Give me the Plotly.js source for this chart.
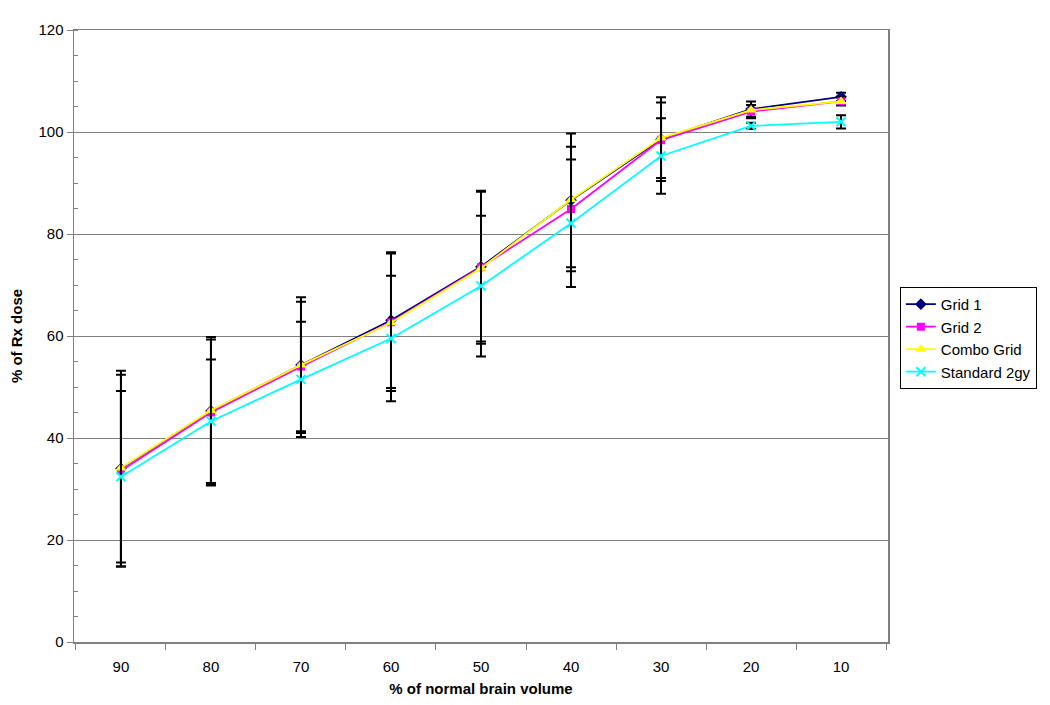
<!DOCTYPE html>
<html>
<head>
<meta charset="utf-8">
<script src="https://cdn.plot.ly/plotly-3.0.1.min.js"></script>
<style>html,body{margin:0;padding:0;background:#fff;}#chart{width:1050px;height:705px;}</style>
</head>
<body>
<div id="chart"></div>
<script>
const categories = ["90", "80", "70", "60", "50", "40", "30", "20", "10"];
const grid1 = [34.0, 45.3, 54.3, 63.1, 73.6, 86.6, 98.6, 104.5, 106.9];
const grid1Err = [19.2, 14.5, 13.3, 13.3, 14.7, 13.1, 8.2, 1.5, 0.8];
const grid2 = [33.6, 45.0, 54.0, 62.7, 73.5, 84.9, 98.4, 104.0, 106.0];
const grid2Err = [18.8, 14.3, 12.7, 13.5, 15.0, 12.2, 7.4, 1.3, 0.8];
const comboGrid = [34.1, 45.4, 54.3, 62.6, 73.3, 86.7, 98.8, 104.3, 106.0];
const standard2gy = [32.4, 43.3, 51.5, 59.5, 69.8, 82.1, 95.3, 101.2, 102.0];
const standard2gyErr = [16.8, 12.1, 11.3, 12.3, 13.8, 12.5, 7.4, 0.6, 1.3];

function err(arr) {
  return {type: "data", array: arr, visible: true, color: "#000000", thickness: 2, width: 5};
}

const traces = [
  {x: categories, y: grid1, name: "Grid 1", type: "scatter", mode: "lines+markers",
   line: {color: "#000080", width: 1.8}, marker: {symbol: "diamond", size: 9, color: "#000080"},
   error_y: err(grid1Err)},
  {x: categories, y: grid2, name: "Grid 2", type: "scatter", mode: "lines+markers",
   line: {color: "#FF00FF", width: 1.8}, marker: {symbol: "square", size: 8, color: "#FF00FF"},
   error_y: err(grid2Err)},
  {x: categories, y: comboGrid, name: "Combo Grid", type: "scatter", mode: "lines+markers",
   line: {color: "#FFFF00", width: 1.8}, marker: {symbol: "triangle-up", size: 10, color: "#FFFF00"}},
  {x: categories, y: standard2gy, name: "Standard 2gy", type: "scatter", mode: "lines+markers",
   line: {color: "#00FFFF", width: 1.8}, marker: {symbol: "x-thin", size: 9, line: {color: "#00FFFF", width: 2}, color: "#00FFFF"},
   error_y: err(standard2gyErr)}
];

const layout = {
  width: 1050, height: 705,
  margin: {l: 74, r: 162, t: 30, b: 63},
  paper_bgcolor: "#ffffff", plot_bgcolor: "#ffffff",
  font: {family: "Liberation Sans, Arial, sans-serif", size: 15, color: "#000"},
  showlegend: true,
  legend: {xref: "container", yref: "container", x: 0.857, y: 0.593, xanchor: "left", yanchor: "top",
    bordercolor: "#000000", borderwidth: 1, font: {size: 15}, tracegroupgap: 0, itemwidth: 30},
  xaxis: {
    type: "category", title: {text: "<b>% of normal brain volume</b>", font: {size: 15}, standoff: 10},
    showline: true, linecolor: "#808080", linewidth: 1.5, mirror: true,
    ticks: "outside", tickson: "boundaries", ticklen: 6, tickcolor: "#808080",
    ticklabelstandoff: 10,
    showgrid: false, tickfont: {size: 15}, automargin: false
  },
  yaxis: {
    range: [0, 120], dtick: 20, title: {text: "<b>% of Rx dose</b>", font: {size: 15}, standoff: 12},
    showline: true, linecolor: "#808080", linewidth: 1.5, mirror: true,
    ticks: "outside", ticklen: 6, tickcolor: "#808080",
    showgrid: true, gridcolor: "#808080", gridwidth: 1, zeroline: false,
    minor: {dtick: 5, ticks: "inside", ticklen: 4, tickcolor: "#808080", showgrid: false},
    tickfont: {size: 15}, automargin: false
  }
};

Plotly.newPlot("chart", traces, layout, {displayModeBar: false, staticPlot: true});
</script>
</body>
</html>
